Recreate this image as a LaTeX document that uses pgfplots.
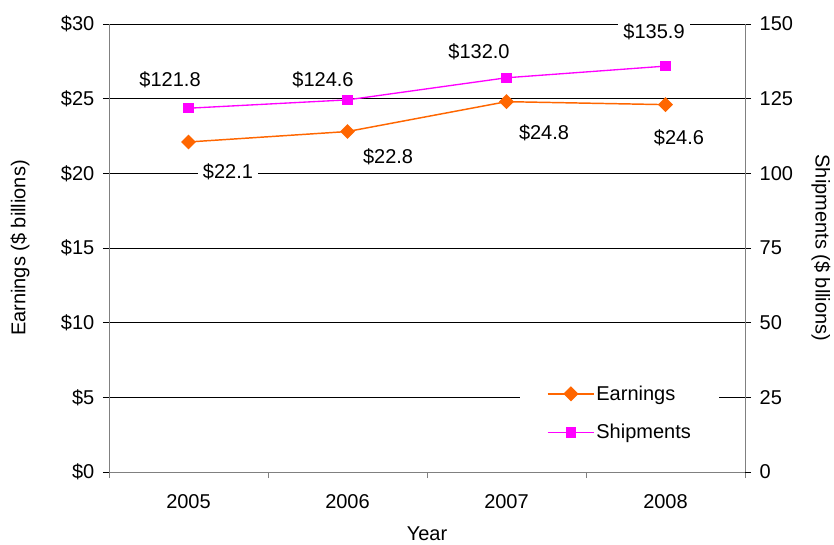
\documentclass[border=0pt]{standalone}
\usepackage{fontspec}
\setmainfont{Liberation Sans}
\usepackage{pgfplots}
\pgfplotsset{compat=1.18}
\definecolor{earn}{RGB}{255,102,0}
\definecolor{ship}{RGB}{255,0,255}
\definecolor{axgray}{RGB}{128,128,128}
\newcommand{\cf}{\fontsize{15}{18}\selectfont}
\begin{document}
\begin{tikzpicture}
\pgfplotsset{
  base/.style={
    width=477pt, height=336pt, scale only axis,
    xmin=-0.5, xmax=3.5,
    clip=false,
    /pgf/number format/assume math mode=true,
    tick label style={font=\cf},
    label style={font=\cf},
    axis line style={-, draw=axgray, line width=0.7pt},
    tick align=outside,
    major tick length=4.5pt,
    ytick style={draw=black, line width=0.6pt},
  }
}
\begin{axis}[base,
  at={(0,0)}, anchor=south west,
  axis x line*=bottom, axis y line*=left,
  ymin=0, ymax=30,
  ytick={0,5,10,15,20,25,30},
  yticklabels={\$0,\$5,\$10,\$15,\$20,\$25,\$30},
  ymajorgrids, grid style={black, line width=0.6pt},
  xtick={-0.5,0.5,1.5,2.5,3.5},
  xticklabels={},
  xtick style={draw=axgray, line width=0.6pt},
  extra x ticks={0,1,2,3},
  extra x tick labels={2005,2006,2007,2008},
  extra x tick style={major tick length=0pt, xmajorgrids=false, xticklabel style={yshift=-13pt}},
  xlabel={Year},
  xlabel style={at={(axis description cs:0.5,-0.138)}, anchor=center},
  ylabel={Earnings (\$ billions)},
  ylabel style={at={(axis description cs:-0.14,0.5)}, anchor=center},
  yticklabel style={xshift=-3pt},
]
\addplot[earn, line width=1.1pt, mark=diamond*, mark size=4.8pt, mark options={xscale=1.33, fill=earn, draw=earn}]
  coordinates {(0,22.1) (1,22.8) (2,24.8) (3,24.6)};
\begin{scope}[every node/.style={font=\cf, fill=white, inner xsep=4pt, inner ysep=2pt}]
\node at (axis cs:0.248,20.09) {\$22.1};
\node at (axis cs:1.255,21.09) {\$22.8};
\node at (axis cs:2.236,22.70) {\$24.8};
\node at (axis cs:3.085,22.37) {\$24.6};
\end{scope}
\end{axis}
\begin{axis}[base,
  at={(0,0)}, anchor=south west,
  axis x line=none, axis y line*=right,
  ymin=0, ymax=150,
  ytick={0,25,50,75,100,125,150},
  ylabel={Shipments (\$ bllions)},
  ylabel style={at={(axis description cs:1.1195,0.5)}, anchor=center, rotate=180},
  yticklabel style={xshift=3pt},
  legend style={at={(axis description cs:0.646,0.223)}, anchor=north west,
    fill=white, draw=none, font=\cf, inner xsep=20pt, inner ysep=7.9pt,
    row sep=12.5pt, nodes={inner xsep=1pt}},
  legend cell align=left,
  legend image code/.code={\draw[line width=1.2pt, mark repeat=2,mark phase=2] plot coordinates {(0pt,0pt) (17.5pt,0pt) (35pt,0pt)};},
]
\addlegendimage{draw=earn, line width=1.2pt, mark=diamond*, mark size=4.8pt, mark options={xscale=1.33, fill=earn, draw=earn}}
\addlegendentry{Earnings}
\addplot[ship, line width=1pt, mark=square*, mark size=3.4pt, mark options={fill=ship, draw=ship}]
  coordinates {(0,121.8) (1,124.6) (2,132.0) (3,135.9)};
\addlegendentry{Shipments}
\begin{scope}[every node/.style={font=\cf, fill=white, inner xsep=4pt, inner ysep=2pt}]
\node at (axis cs:-0.116,131.25) {\$121.8};
\node at (axis cs:0.846,131.25) {\$124.6};
\node at (axis cs:1.827,140.6) {\$132.0};
\node at (axis cs:2.928,147.3) {\$135.9};
\end{scope}
\end{axis}
\pgfresetboundingbox
\path[use as bounding box] (-81.75pt,-54pt) rectangle (543.75pt,354pt);
\end{tikzpicture}
\end{document}
